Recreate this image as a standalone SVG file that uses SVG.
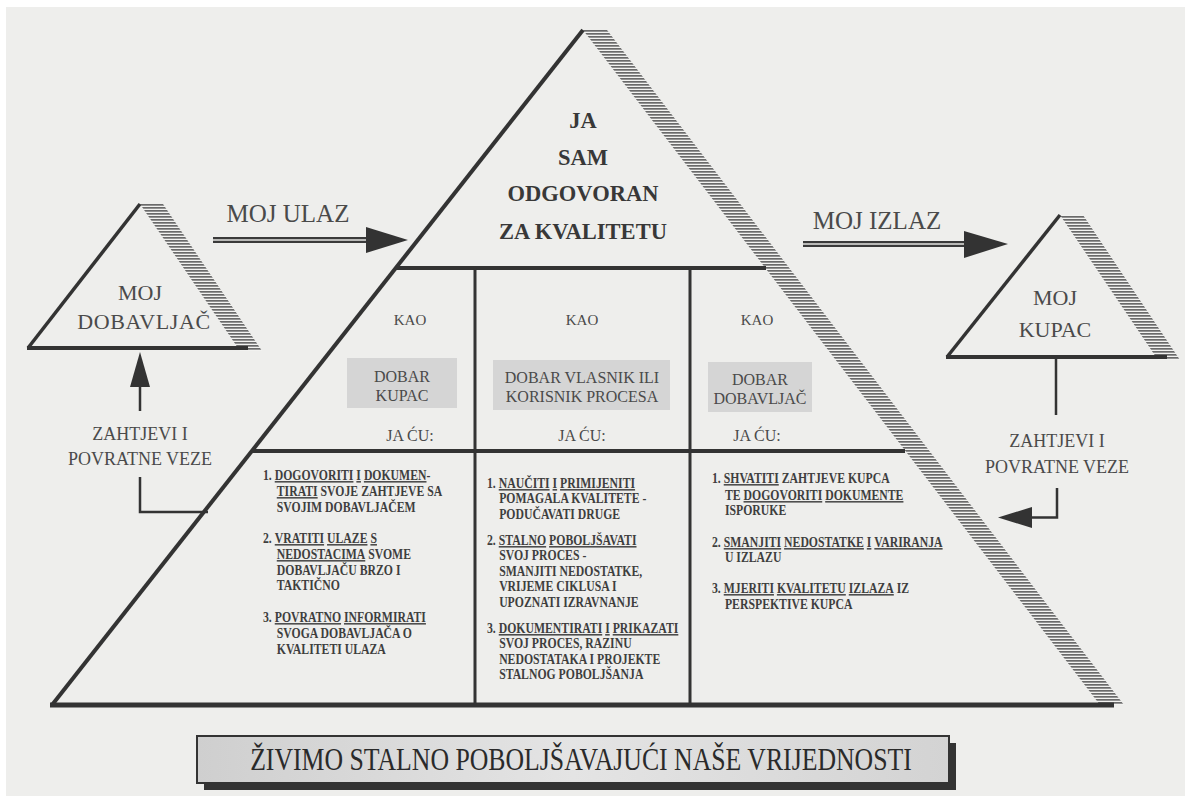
<svg xmlns="http://www.w3.org/2000/svg" width="1185" height="796" viewBox="0 0 1185 796">
<defs>
<pattern id="hatch" patternUnits="userSpaceOnUse" width="4" height="3">
<rect width="4" height="3" fill="#f2f2f0"/>
<rect width="4" height="1.7" fill="#6a6a6a"/>
</pattern>
<linearGradient id="bann" x1="0" y1="0" x2="1" y2="0">
<stop offset="0" stop-color="#cfcfcf"/>
<stop offset="0.5" stop-color="#e4e4e4"/>
<stop offset="1" stop-color="#d3d3d3"/>
</linearGradient>
<style>
.ln{stroke:#333;fill:none;stroke-linecap:butt}
.serif{font-family:"Liberation Serif","Times New Roman",serif}
.big{font-family:"Liberation Serif","Times New Roman",serif;font-size:22.5px;font-weight:bold;fill:#383838;text-anchor:middle}
.lbl{font-family:"Liberation Serif","Times New Roman",serif;fill:#4a4a4a;text-anchor:middle}
.col{font-family:"Liberation Serif","Times New Roman",serif;font-weight:bold;font-size:14.5px;fill:#3e3e3e}
.u{text-decoration:underline}
.box{fill:#d5d5d5}
</style>
</defs>
<rect x="0" y="0" width="1185" height="796" fill="#ffffff"/>
<rect x="6" y="7" width="1179" height="789" fill="#eeeeec"/>

<g id="main-pyramid">
<polygon points="583,30 607,30 1124,705 1100,705" fill="url(#hatch)"/>
<line class="ln" x1="583" y1="30" x2="52" y2="705" stroke-width="4"/>
<line class="ln" x1="50" y1="705" x2="1114" y2="705" stroke-width="5"/>
<line class="ln" x1="396" y1="268" x2="766" y2="268" stroke-width="4"/>
<line class="ln" x1="252" y1="451" x2="905" y2="451" stroke-width="4"/>
<line class="ln" x1="475" y1="268" x2="475" y2="705" stroke-width="3"/>
<line class="ln" x1="690" y1="268" x2="690" y2="705" stroke-width="3"/>
<text class="big" x="583" y="128">JA</text>
<text class="big" x="583" y="165">SAM</text>
<text class="big" x="583" y="201">ODGOVORAN</text>
<text class="big" x="583" y="239">ZA KVALITETU</text>
</g>

<g id="cell-kupac">
<text class="lbl" x="410" y="325" font-size="15">KAO</text>
<rect class="box" x="347" y="358" width="110" height="50"/>
<text class="lbl" x="402" y="382" font-size="16">DOBAR</text>
<text class="lbl" x="402" y="401" font-size="16">KUPAC</text>
<text class="lbl" x="410" y="441" font-size="16">JA ĆU:</text>
</g>
<g id="cell-vlasnik">
<text class="lbl" x="582" y="325" font-size="15">KAO</text>
<rect class="box" x="493" y="360" width="177" height="50"/>
<text class="lbl" x="582" y="383" font-size="16">DOBAR  VLASNIK ILI</text>
<text class="lbl" x="582" y="402" font-size="16">KORISNIK  PROCESA</text>
<text class="lbl" x="582" y="441" font-size="16">JA ĆU:</text>
</g>
<g id="cell-dobavljac">
<text class="lbl" x="757" y="325" font-size="15">KAO</text>
<rect class="box" x="708" y="362" width="104" height="50"/>
<text class="lbl" x="760" y="385" font-size="16">DOBAR</text>
<text class="lbl" x="760" y="404" font-size="16">DOBAVLJAČ</text>
<text class="lbl" x="757" y="441" font-size="16">JA ĆU:</text>
</g>

<g id="list-kupac" transform="translate(263 0) scale(0.81 1)">
<text class="col" x="0" y="480">1. <tspan class="u">DOGOVORITI</tspan> <tspan class="u">I</tspan> <tspan class="u">DOKUMEN</tspan>-</text>
<text class="col" x="17" y="496"><tspan class="u">TIRATI</tspan> SVOJE ZAHTJEVE SA</text>
<text class="col" x="17" y="512">SVOJIM DOBAVLJAČEM</text>
<text class="col" x="0" y="543">2. <tspan class="u">VRATITI</tspan> <tspan class="u">ULAZE</tspan> <tspan class="u">S</tspan></text>
<text class="col" x="17" y="559"><tspan class="u">NEDOSTACIMA</tspan> SVOME</text>
<text class="col" x="17" y="575">DOBAVLJAČU BRZO I</text>
<text class="col" x="17" y="590">TAKTIČNO</text>
<text class="col" x="0" y="622">3. <tspan class="u">POVRATNO</tspan> <tspan class="u">INFORMIRATI</tspan></text>
<text class="col" x="17" y="638">SVOGA DOBAVLJAČA O</text>
<text class="col" x="17" y="654">KVALITETI ULAZA</text>
</g>

<g id="list-vlasnik" transform="translate(487 0) scale(0.81 1)">
<text class="col" x="0" y="488">1. <tspan class="u">NAUČITI</tspan> <tspan class="u">I</tspan> <tspan class="u">PRIMIJENITI</tspan></text>
<text class="col" x="15" y="503.5">POMAGALA KVALITETE -</text>
<text class="col" x="15" y="519">PODUČAVATI DRUGE</text>
<text class="col" x="0" y="545">2. <tspan class="u">STALNO</tspan> <tspan class="u">POBOLJŠAVATI</tspan></text>
<text class="col" x="15" y="560.5">SVOJ PROCES -</text>
<text class="col" x="15" y="576">SMANJITI NEDOSTATKE,</text>
<text class="col" x="15" y="591.5">VRIJEME CIKLUSA I</text>
<text class="col" x="15" y="607">UPOZNATI IZRAVNANJE</text>
<text class="col" x="0" y="633">3. <tspan class="u">DOKUMENTIRATI</tspan> <tspan class="u">I</tspan> <tspan class="u">PRIKAZATI</tspan></text>
<text class="col" x="15" y="648.5">SVOJ PROCES, RAZINU</text>
<text class="col" x="15" y="664">NEDOSTATAKA I PROJEKTE</text>
<text class="col" x="15" y="679.5">STALNOG POBOLJŠANJA</text>
</g>

<g id="list-dobavljac" transform="translate(712 0) scale(0.81 1)">
<text class="col" x="0" y="483">1. <tspan class="u">SHVATITI</tspan> ZAHTJEVE KUPCA</text>
<text class="col" x="16" y="500">TE <tspan class="u">DOGOVORITI</tspan> <tspan class="u">DOKUMENTE</tspan></text>
<text class="col" x="16" y="515">ISPORUKE</text>
<text class="col" x="0" y="547">2. <tspan class="u">SMANJITI</tspan> <tspan class="u">NEDOSTATKE</tspan> <tspan class="u">I</tspan> <tspan class="u">VARIRANJA</tspan></text>
<text class="col" x="16" y="562">U IZLAZU</text>
<text class="col" x="0" y="593">3. <tspan class="u">MJERITI</tspan> <tspan class="u">KVALITETU</tspan> <tspan class="u">IZLAZA</tspan> IZ</text>
<text class="col" x="16" y="609">PERSPEKTIVE KUPCA</text>
</g>

<g id="supplier">
<polygon points="140,204 163,204 262,351 240,351" fill="url(#hatch)"/>
<line class="ln" x1="140" y1="204" x2="28" y2="348" stroke-width="3.5"/>
<line class="ln" x1="27" y1="348" x2="248" y2="348" stroke-width="4"/>
<text class="lbl" x="140" y="300" font-size="22">MOJ</text>
<text class="lbl" x="144" y="329" font-size="22" letter-spacing="0.6">DOBAVLJAČ</text>
</g>

<g id="customer">
<polygon points="1060,215 1083,215 1180,360 1158,360" fill="url(#hatch)"/>
<line class="ln" x1="1060" y1="215" x2="947" y2="357" stroke-width="3.5"/>
<line class="ln" x1="946" y1="357" x2="1167" y2="357" stroke-width="4"/>
<text class="lbl" x="1055" y="305" font-size="22">MOJ</text>
<text class="lbl" x="1055" y="337" font-size="22">KUPAC</text>
</g>

<g id="connectors">
<line x1="213" y1="240" x2="368" y2="240" stroke="#3a3a3a" stroke-width="6"/>
<line x1="213" y1="240" x2="368" y2="240" stroke="#e4e4e2" stroke-width="1.5"/>
<polygon points="366,227 408,240 366,253" fill="#333"/>
<text class="lbl" x="288" y="222" font-size="25">MOJ ULAZ</text>

<line x1="803" y1="244" x2="966" y2="244" stroke="#3a3a3a" stroke-width="6"/>
<line x1="803" y1="244" x2="966" y2="244" stroke="#e4e4e2" stroke-width="1.5"/>
<polygon points="964,231 1008,244 964,258" fill="#333"/>
<text class="lbl" x="877" y="229" font-size="25">MOJ IZLAZ</text>

<line class="ln" x1="140" y1="387" x2="140" y2="411" stroke-width="2.5"/>
<polygon points="130,387 140,352 150,387" fill="#333"/>
<polyline class="ln" points="140,477 140,512 208,512" stroke-width="2.5"/>
<text class="lbl" x="140" y="440" font-size="18">ZAHTJEVI I</text>
<text class="lbl" x="140" y="465" font-size="18">POVRATNE VEZE</text>

<line class="ln" x1="1056" y1="357" x2="1056" y2="415" stroke-width="2.5"/>
<polyline class="ln" points="1057,488 1057,517.5 1030,517.5" stroke-width="2.5"/>
<polygon points="1032,507 998,517.5 1032,528" fill="#333"/>
<text class="lbl" x="1057" y="447" font-size="18">ZAHTJEVI I</text>
<text class="lbl" x="1057" y="473" font-size="18">POVRATNE VEZE</text>
</g>

<g id="banner">
<rect x="204" y="743" width="752" height="47" fill="#333"/>
<rect x="197" y="736" width="752" height="47" fill="url(#bann)" stroke="#333" stroke-width="2"/>
<text class="serif" transform="scale(0.92 1.1)" x="631.5" y="700" font-size="28" fill="#2a2a2a" text-anchor="middle">ŽIVIMO STALNO POBOLJŠAVAJUĆI NAŠE VRIJEDNOSTI</text>
</g>
</svg>
